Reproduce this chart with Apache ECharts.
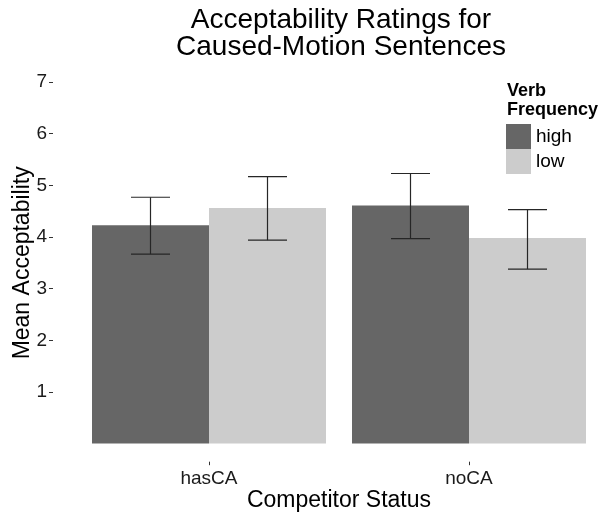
<!DOCTYPE html>
<html>
<head>
<meta charset="utf-8">
<script src="https://cdn.jsdelivr.net/npm/echarts@6/dist/echarts.min.js"></script>
<style>
  html, body { margin: 0; padding: 0; background: #ffffff; }
  #chart { width: 608px; height: 515px; }
</style>
</head>
<body>
<div id="chart"></div>
<script>
// Mean acceptability by competitor status and verb frequency, with error bars
const categories = ['hasCA', 'noCA'];
const highMeans = [4.23, 4.61];
const lowMeans = [4.56, 3.98];
const highLower = [3.67, 3.97];
const highUpper = [4.77, 5.23];
const lowLower = [3.94, 3.38];
const lowUpper = [5.17, 4.53];
const yTicks = [1, 2, 3, 4, 5, 6, 7];

const FONT = "'Liberation Sans', Arial, sans-serif";
const HIGH_COLOR = '#666666';
const LOW_COLOR = '#cccccc';

// Error bar ranges: [category index, lower, upper]
const highErr = categories.map((c, i) => [i, highLower[i], highUpper[i]]);
const lowErr = categories.map((c, i) => [i, lowLower[i], lowUpper[i]]);

// Draws a capped vertical error bar, shifted to sit on its dodged bar
function errorBar(shift) {
  return function (params, api) {
    const band = api.size([1, 0])[0];
    const center = api.coord([api.value(0), 0])[0] + shift * band;
    const top = api.coord([api.value(0), api.value(2)])[1];
    const bottom = api.coord([api.value(0), api.value(1)])[1];
    const half = 0.075 * band;
    const style = { stroke: '#262626', lineWidth: 1.2 };
    return {
      type: 'group',
      children: [
        { type: 'line', shape: { x1: center, y1: top, x2: center, y2: bottom }, style },
        { type: 'line', shape: { x1: center - half, y1: top, x2: center + half, y2: top }, style },
        { type: 'line', shape: { x1: center - half, y1: bottom, x2: center + half, y2: bottom }, style }
      ]
    };
  };
}

const chart = echarts.init(document.getElementById('chart'), null, { renderer: 'canvas' });

chart.setOption({
  backgroundColor: '#ffffff',
  animation: false,
  textStyle: { fontFamily: FONT },
  graphic: [
    {
      type: 'text', x: 341, y: 20.5,
      style: { text: 'Acceptability Ratings for', font: '28px ' + FONT, fill: '#000', textAlign: 'center', textVerticalAlign: 'middle' }
    },
    {
      type: 'text', x: 341, y: 47.5,
      style: { text: 'Caused-Motion Sentences', font: '28px ' + FONT, fill: '#000', textAlign: 'center', textVerticalAlign: 'middle' }
    },
    {
      type: 'text', x: 507, y: 91,
      style: { text: 'Verb', font: 'bold 18px ' + FONT, fill: '#000', textAlign: 'left', textVerticalAlign: 'middle' }
    },
    {
      type: 'text', x: 507, y: 110.5,
      style: { text: 'Frequency', font: 'bold 18px ' + FONT, fill: '#000', textAlign: 'left', textVerticalAlign: 'middle' }
    }
  ],
  legend: {
    orient: 'vertical',
    left: 506,
    top: 124,
    padding: 0,
    itemGap: 0,
    itemWidth: 25,
    itemHeight: 25,
    icon: 'rect',
    selectedMode: false,
    textStyle: { fontSize: 19, color: '#000', fontFamily: FONT },
    data: ['high', 'low']
  },
  grid: {
    left: 79, right: 9, top: 64, bottom: 53.3,
    containLabel: false,
    outerBoundsMode: 'none'
  },
  xAxis: {
    type: 'category',
    data: categories,
    name: 'Competitor Status',
    nameLocation: 'middle',
    nameGap: 27,
    nameMoveOverlap: false,
    nameTextStyle: { fontSize: 23, color: '#000', fontFamily: FONT },
    axisLine: { show: false, onZero: false },
    axisTick: { show: true, alignWithLabel: true, length: 3.5, lineStyle: { color: '#333', width: 1 } },
    axisLabel: { fontSize: 19, color: '#1a1a1a', margin: 8, fontFamily: FONT },
    splitLine: { show: false }
  },
  yAxis: {
    type: 'value',
    min: -0.35,
    max: 7.35,
    offset: 26,
    name: 'Mean Acceptability',
    nameLocation: 'middle',
    nameGap: 19,
    nameMoveOverlap: false,
    nameTextStyle: { fontSize: 23, color: '#000', fontFamily: FONT },
    axisLine: { show: false },
    axisTick: { show: true, length: 4, customValues: yTicks, lineStyle: { color: '#333', width: 1 } },
    axisLabel: { fontSize: 19, color: '#1a1a1a', margin: 6, customValues: yTicks, fontFamily: FONT },
    splitLine: { show: false }
  },
  series: [
    {
      name: 'high', type: 'bar', data: highMeans,
      barGap: '0%', barCategoryGap: '10%',
      itemStyle: { color: HIGH_COLOR }
    },
    {
      name: 'low', type: 'bar', data: lowMeans,
      barGap: '0%', barCategoryGap: '10%',
      itemStyle: { color: LOW_COLOR }
    },
    {
      type: 'custom', data: highErr, encode: { x: 0, y: [1, 2] },
      renderItem: errorBar(-0.225), z: 5, silent: true
    },
    {
      type: 'custom', data: lowErr, encode: { x: 0, y: [1, 2] },
      renderItem: errorBar(0.225), z: 5, silent: true
    }
  ]
});
</script>
</body>
</html>
